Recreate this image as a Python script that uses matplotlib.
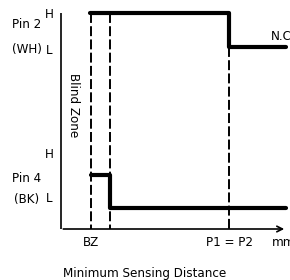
import matplotlib
matplotlib.use("Agg")
import matplotlib.pyplot as plt

# Data (diagram coordinates)
pin2_x = [90, 229, 229, 286]
pin2_y = [13, 13, 47, 47]
pin4_x = [91, 110, 110, 286]
pin4_y = [175, 175, 208, 208]
dash_x = [91, 110]
p_x = 229
tick_labels = ["BZ", "P1 = P2", "mm"]
tick_pos = [91, 229, 272]
tick_ha = ['center', 'center', 'left']

plt.rcParams['font.family'] = ['DejaVu Sans']
plt.rcParams['font.stretch'] = 'condensed'

fig = plt.figure(figsize=(2.9, 2.8), dpi=100)
ax = fig.add_axes([0, 0, 1, 1])
ax.set_xlim(0, 290)
ax.set_ylim(280, 0)
ax.axis('off')

# axes
ax.plot([61, 61], [13, 229], color='black', lw=1.2, solid_capstyle='butt')
ax.annotate('', xy=(287, 229), xytext=(60.5, 229),
            arrowprops=dict(arrowstyle='->', lw=1.2, color='black', mutation_scale=10))

# dashed lines
dash = (0, (5.1, 1.7))
for x in dash_x:
    ax.plot([x, x], [13, 229], color='black', lw=1.4, ls=dash)
ax.plot([p_x, p_x], [47, 229], color='black', lw=1.4, ls=dash)

# signals
ax.plot(pin2_x, pin2_y, color='black', lw=3.0, solid_capstyle='round', solid_joinstyle='round')
ax.plot(pin4_x, pin4_y, color='black', lw=3.0, solid_capstyle='round', solid_joinstyle='round')

fs = 9.5
kw = dict(fontsize=fs, fontstretch='condensed')
ax.text(27, 25, "Pin 2", ha='center', va='center', **kw)
ax.text(27, 50, "(WH)", ha='center', va='center', **kw)
ax.text(49, 15, "H", ha='center', va='center', **kw)
ax.text(49, 50, "L", ha='center', va='center', **kw)
ax.text(27, 178, "Pin 4", ha='center', va='center', **kw)
ax.text(27, 200, "(BK)", ha='center', va='center', **kw)
ax.text(49, 155, "H", ha='center', va='center', **kw)
ax.text(49, 199, "L", ha='center', va='center', **kw)
ax.text(281, 36, "N.C", ha='center', va='center', **kw)
ax.text(73, 105, "Blind Zone", ha='center', va='center', rotation=-90, **kw)
for lab, x, ha in zip(tick_labels, tick_pos, tick_ha):
    ax.text(x, 242, lab, ha=ha, va='center', **kw)
ax.text(145, 273, "Minimum Sensing Distance", ha='center', va='center', **kw)

fig.savefig("out.png", dpi=100)
